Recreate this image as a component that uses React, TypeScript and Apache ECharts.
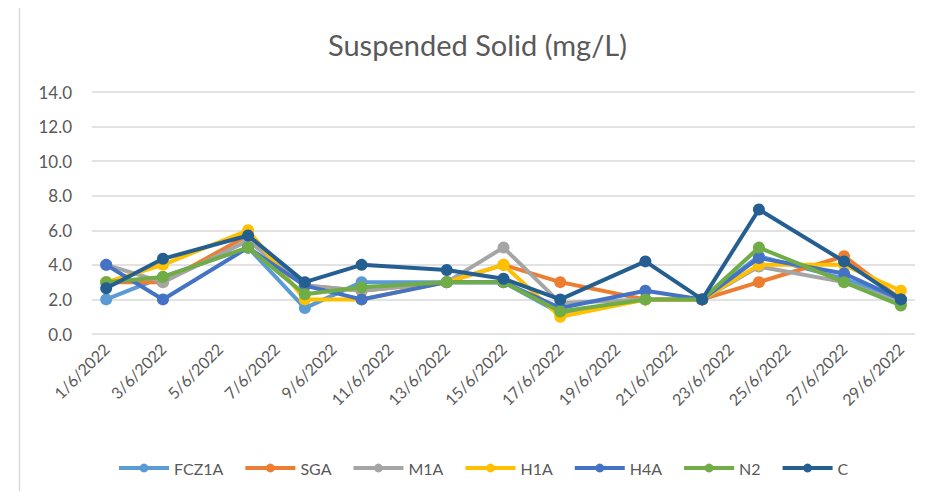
import React, { useEffect, useRef } from "react";
import * as echarts from "echarts";

const categories: string[] = [
  "1/6/2022", "2/6/2022", "3/6/2022", "4/6/2022", "5/6/2022", "6/6/2022", "7/6/2022",
  "8/6/2022", "9/6/2022", "10/6/2022", "11/6/2022", "12/6/2022", "13/6/2022", "14/6/2022",
  "15/6/2022", "16/6/2022", "17/6/2022", "18/6/2022", "19/6/2022", "20/6/2022", "21/6/2022",
  "22/6/2022", "23/6/2022", "24/6/2022", "25/6/2022", "26/6/2022", "27/6/2022", "28/6/2022",
  "29/6/2022",
];

const sampleDates: string[] = [
  "1/6/2022", "3/6/2022", "6/6/2022", "8/6/2022", "10/6/2022", "13/6/2022", "15/6/2022",
  "17/6/2022", "20/6/2022", "22/6/2022", "24/6/2022", "27/6/2022", "29/6/2022",
];

const FCZ1A = [2.0, 3.3, 5.0, 1.5, 3.0, 3.0, 3.0, 1.2, 2.0, 2.0, 4.5, 3.2, 2.0];
const SGA = [3.0, 3.0, 5.7, 2.8, 2.5, 3.0, 4.0, 3.0, 2.0, 2.0, 3.0, 4.5, 2.0];
const M1A = [4.0, 3.0, 5.4, 2.8, 2.5, 3.0, 5.0, 1.8, 2.0, 2.0, 3.9, 3.0, 1.8];
const H1A = [3.0, 4.0, 6.0, 2.0, 2.0, 3.0, 4.0, 1.0, 2.0, 2.0, 4.0, 4.0, 2.5];
const H4A = [4.0, 2.0, 5.0, 2.8, 2.0, 3.0, 3.0, 1.5, 2.5, 2.0, 4.4, 3.5, 2.0];
const N2 = [3.0, 3.3, 5.0, 2.3, 2.7, 3.0, 3.0, 1.3, 2.0, 2.0, 5.0, 3.0, 1.65];
const C = [2.65, 4.35, 5.7, 3.0, 4.0, 3.7, 3.2, 2.0, 4.2, 2.0, 7.2, 4.2, 2.0];

const seriesNames = ["FCZ1A", "SGA", "M1A", "H1A", "H4A", "N2", "C"];
const seriesValues = [FCZ1A, SGA, M1A, H1A, H4A, N2, C];
const seriesColors = ["#5B9BD5", "#ED7D31", "#A5A5A5", "#FFC000", "#4472C4", "#70AD47", "#255E91"];

const FONT = "Lato";
const TEXT = "#595959";

export default function App() {
  const ref = useRef<HTMLDivElement>(null);
  useEffect(() => {
    if (!ref.current) return;
    const chart = echarts.init(ref.current, undefined, { renderer: "svg" });
    chart.setOption({
      animation: false,
      backgroundColor: "#ffffff",
      textStyle: { fontFamily: FONT },
      graphic: [
        {
          type: "rect",
          left: 17,
          top: 3,
          shape: { width: 960, height: 520 },
          style: { fill: "none", stroke: "#d9d9d9", lineWidth: 1.5 },
          silent: true,
        },
      ],
      title: {
        text: "Suspended Solid (mg/L)",
        left: 323,
        top: 25,
        textStyle: { fontFamily: FONT, fontSize: 29, fontWeight: "normal", color: TEXT },
      },
      legend: {
        data: seriesNames,
        bottom: 18,
        left: 112,
        itemWidth: 50,
        itemHeight: 11,
        itemGap: 20,
        lineStyle: { width: 4 },
        textStyle: { fontFamily: FONT, fontSize: 16, color: TEXT },
      },
      grid: { left: 92, right: 29, top: 92, bottom: 165, containLabel: false },
      xAxis: {
        type: "category",
        data: categories,
        boundaryGap: true,
        axisLine: { show: false },
        axisTick: { show: false },
        axisLabel: {
          interval: 1,
          rotate: 45,
          margin: 12,
          fontFamily: FONT,
          fontSize: 16,
          color: TEXT,
        },
      },
      yAxis: {
        type: "value",
        min: 0,
        max: 14,
        interval: 2,
        axisLine: { show: false },
        axisTick: { show: false },
        splitLine: { lineStyle: { color: "#d9d9d9", width: 1.5 } },
        axisLabel: {
          margin: 20,
          fontFamily: FONT,
          fontSize: 17,
          color: TEXT,
          formatter: (v: number) => v.toFixed(1),
        },
      },
      series: seriesNames.map((name, i) => ({
        name,
        type: "line",
        data: sampleDates.map((d, j) => [d, seriesValues[i][j]]),
        symbol: "circle",
        symbolSize: 12,
        connectNulls: true,
        lineStyle: { width: 4, color: seriesColors[i] },
        itemStyle: { color: seriesColors[i] },
        z: 2 + i,
      })),
    });
    return () => chart.dispose();
  }, []);
  return <div ref={ref} style={{ width: 944, height: 499, margin: -8 }} />;
}
